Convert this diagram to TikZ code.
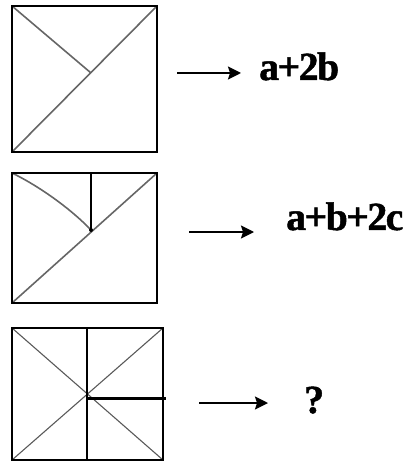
\documentclass[tikz,border=0pt]{standalone}
\usepackage{fontspec}
\setmainfont{Liberation Serif}
\usetikzlibrary{arrows.meta}
\begin{document}
\begin{tikzpicture}[x=1bp,y=-1bp,
  frame/.style={draw=black,line width=2.2bp},
  inner/.style={draw=black!60,line width=1.6bp},
  thinin/.style={draw=black!65,line width=1.1bp},
  arr/.style={-{Stealth[length=13bp,width=13bp,inset=2bp]},line width=1.6bp},
  lab/.style={font=\fontsize{40}{40}\selectfont\bfseries\addfontfeatures{LetterSpace=-4,FakeBold=1.2},anchor=base west,inner sep=0pt}]
\useasboundingbox (0,0) rectangle (407,471);
% box 1
\coordinate (a1) at (12,6); \coordinate (b1) at (157,6);
\coordinate (c1) at (157,152); \coordinate (d1) at (12,152);
\coordinate (m1) at (91,73);
\draw[inner] (d1) -- (b1);
\draw[inner] (a1) -- (m1);
\draw[frame] (a1) rectangle (c1);
% box 2
\coordinate (a2) at (12,173); \coordinate (b2) at (157,173);
\coordinate (c2) at (157,303); \coordinate (d2) at (12,303);
\coordinate (t2) at (91,173); \coordinate (m2) at (91,230);
\draw[inner] (d2) -- (b2);
\draw[inner] (a2) .. controls (35,184) and (68,206) .. (m2);
\draw[draw=black,line width=1.2bp] (t2) -- (m2);
\fill (m2) circle (2bp);
\draw[frame] (a2) rectangle (c2);
% box 3
\coordinate (a3) at (12,328); \coordinate (b3) at (163,328);
\coordinate (c3) at (163,460); \coordinate (d3) at (12,460);
\coordinate (t3) at (87,328); \coordinate (u3) at (87,460);
\coordinate (m3) at (87,398); \coordinate (r3) at (166,398);
\draw[thinin] (a3) -- (c3);
\draw[thinin] (d3) -- (b3);
\draw[draw=black,line width=1.1bp] (t3) -- (u3);
\draw[draw=black,line width=3bp] (m3) -- (r3);
\draw[frame] (a3) rectangle (c3);
% arrows and labels
\coordinate (s1) at (177,73); \coordinate (e1) at (241,73);
\draw[arr] (s1) -- (e1);
\node[lab] (l1) at (259,80) {a+2b};
\coordinate (s2) at (189,232); \coordinate (e2) at (254,232);
\draw[arr] (s2) -- (e2);
\node[lab] (l2) at (286,230) {a+b+2c};
\coordinate (s3) at (199,403); \coordinate (e3) at (268,403);
\draw[arr] (s3) -- (e3);
\node[lab] (l3) at (304,413) {?};
\end{tikzpicture}
\end{document}
